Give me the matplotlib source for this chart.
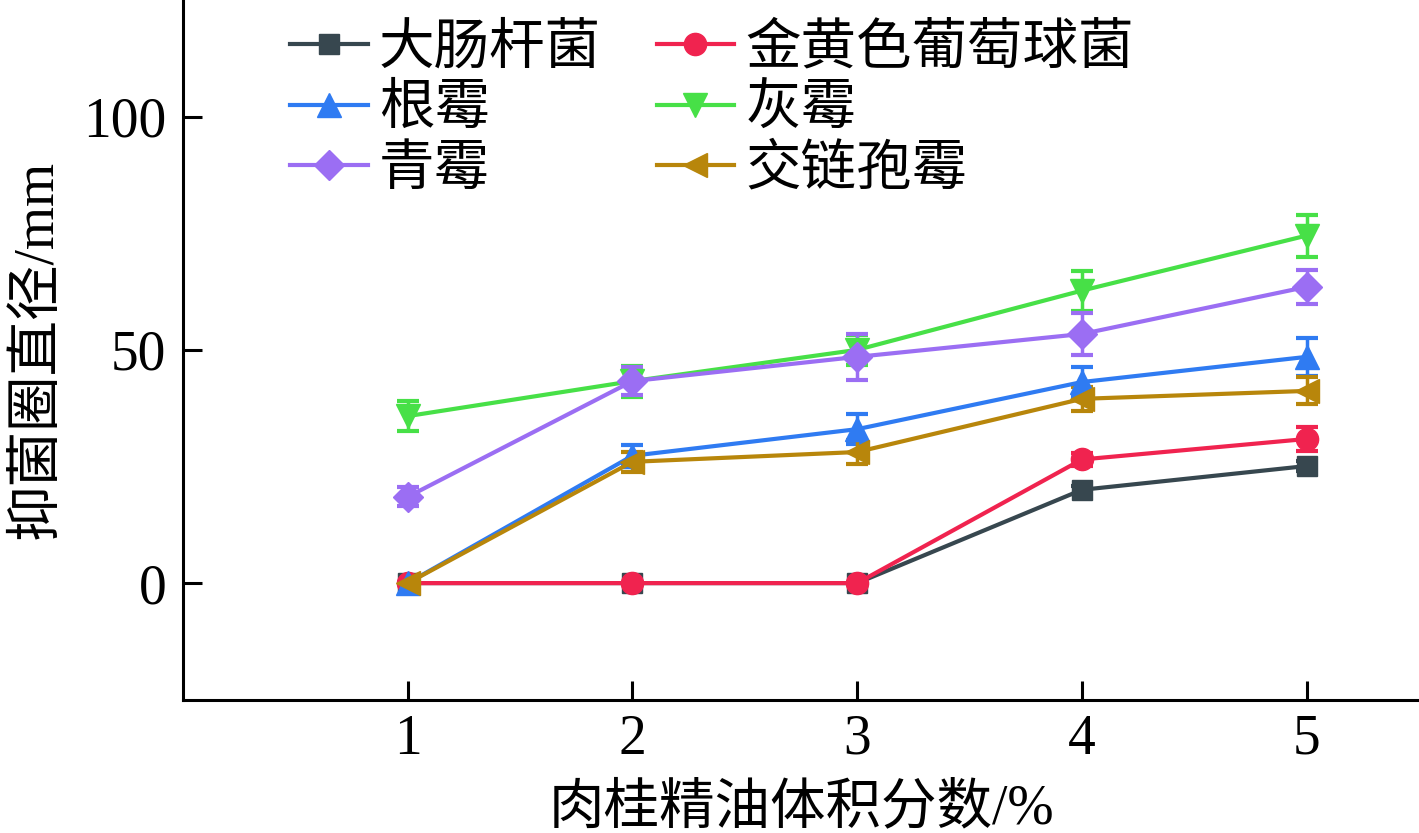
import matplotlib
matplotlib.use("Agg")
import matplotlib.pyplot as plt
from matplotlib.lines import Line2D

plt.rcParams['font.family'] = ['Liberation Serif', 'Noto Sans CJK SC', 'DejaVu Sans']

x = [1, 2, 3, 4, 5]
series_names = ['大肠杆菌', '金黄色葡萄球菌', '根霉', '灰霉', '青霉', '交链孢霉']
ecoli = [0, 0, 0, 20.0, 25.1]
ecoli_err = [0, 0, 0, 0.8, 1.0]
staph = [0, 0, 0, 26.5, 30.9]
staph_err = [0, 0, 0, 1.3, 2.5]
rhizopus = [0, 27.3, 33.0, 43.1, 48.5]
rhizopus_err = [0, 2.2, 3.2, 3.2, 4.0]
botrytis = [35.8, 43.3, 50.0, 62.7, 74.5]
botrytis_err = [3.3, 3.3, 3.2, 4.3, 4.5]
penicillium = [18.5, 43.3, 48.5, 53.4, 63.5]
penicillium_err = [2.0, 3.0, 4.9, 4.5, 3.6]
alternaria = [0, 26.0, 28.1, 39.5, 41.2]
alternaria_err = [0, 2.2, 2.5, 2.6, 2.9]

colors = ['#37474f', '#f0234f', '#2f7bf2', '#47e047', '#9b6ef3', '#b8860b']
markers = ['s', 'o', '^', 'v', 'D', '<']
msizes = [15, 16, 17, 17, 15, 17]

fig = plt.figure(figsize=(14.19, 8.33), dpi=100)
ax = fig.add_axes([0.129, 0.160, 0.871, 0.840])

data = [ecoli, staph, rhizopus, botrytis, penicillium, alternaria]
errs = [ecoli_err, staph_err, rhizopus_err, botrytis_err, penicillium_err, alternaria_err]
handles = []
for name, y, e, c, m, ms in zip(series_names, data, errs, colors, markers, msizes):
    ax.errorbar(x, y, yerr=e, color=c, marker=m, markersize=ms, linewidth=3,
                elinewidth=2.5, capsize=8, capthick=3)
    handles.append(Line2D([], [], color=c, marker=m, markersize=ms, linewidth=3))

ax.set_xlim(0, 5.5)
ax.set_ylim(-25, 125)
ax.set_xticks(x)
ax.set_yticks([0, 50, 100])
ax.tick_params(direction='in', length=14, width=2.2, labelsize=40)
ax.tick_params(axis='y', pad=12)
ax.tick_params(axis='x', pad=10)
for s in ['top', 'right']:
    ax.spines[s].set_visible(False)
for s in ['left', 'bottom']:
    ax.spines[s].set_linewidth(2.2)

ax.set_xlabel('肉桂精油体积分数/%', fontsize=40, labelpad=13)
ax.set_ylabel('抑菌圈直径/mm', fontsize=40, labelpad=14)

order = [0, 2, 4, 1, 3, 5]
leg = ax.legend(handles=[handles[i] for i in order],
                labels=[series_names[i] for i in order], ncol=2, loc='upper left',
                bbox_to_anchor=(0.0866, 0.966), frameon=False, fontsize=40,
                handlelength=1.4, handletextpad=0.2, labelspacing=0.15,
                columnspacing=1.0, borderaxespad=0, borderpad=0)

fig.savefig('out.png', dpi=100)
